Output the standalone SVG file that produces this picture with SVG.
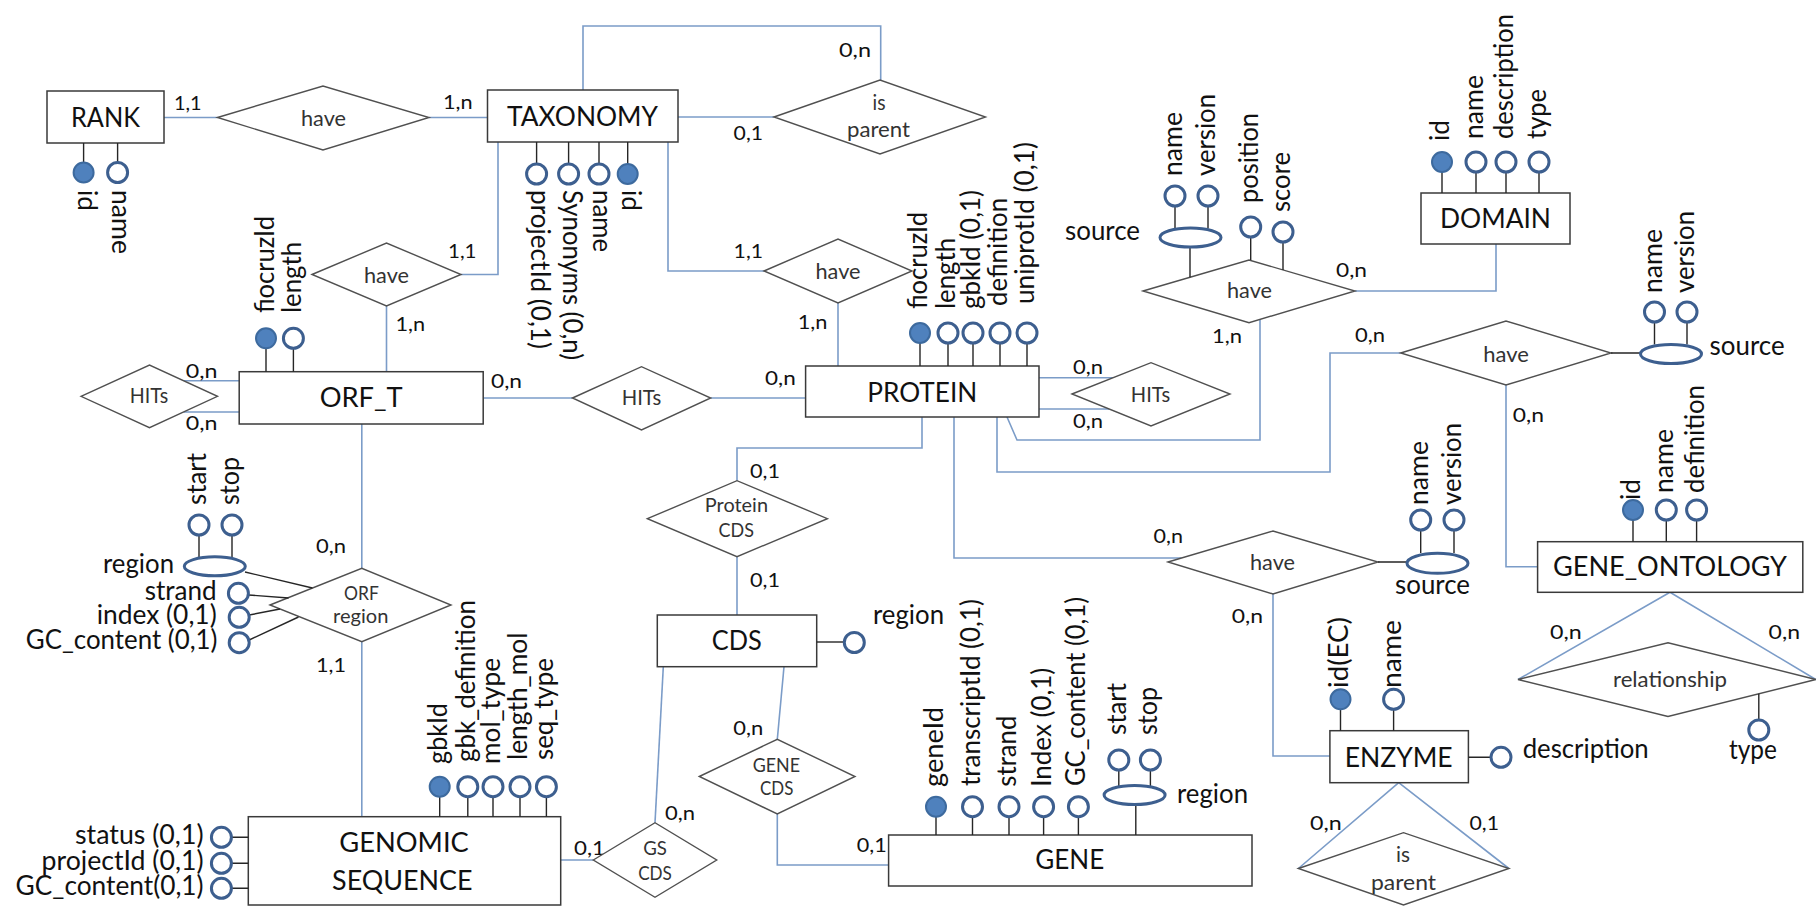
<svg xmlns="http://www.w3.org/2000/svg" width="1817" height="907" viewBox="0 0 1817 907">
  <style>
    .ent { fill: #fff; stroke: #3a3a3a; stroke-width: 1.5; }
    .rel { fill: #fff; stroke: #505050; stroke-width: 1.4; }
    .con { fill: none; stroke: #7b9cc8; stroke-width: 1.6; }
    .stub { fill: none; stroke: #262626; stroke-width: 1.4; }
    .att { fill: #fff; stroke: #3d5f8f; stroke-width: 3; }
    .key { fill: #4f81bd; stroke: #3d6a9e; stroke-width: 2; }
    text { font-family: Lato, "Liberation Sans", sans-serif; fill: #111; }
    .te { font-size: 27px; text-anchor: middle; }
    .tr { font-size: 21.5px; text-anchor: middle; fill: #333; }
    .ts { font-size: 19.5px; text-anchor: middle; fill: #333; }
    .tc { font-size: 19px; fill: #333; }
    .ta { font-size: 26px; }
    .end { text-anchor: end; }
    .mid { text-anchor: middle; }
  </style>

  <!-- relationship lines -->
  <g id="connectors">
    <path class="con" d="M164,117.5 H217.5"/>
    <path class="con" d="M429,117.5 H487.5"/>
    <path class="con" d="M583,90 V26 H880.7 V80"/>
    <path class="con" d="M678,117 H774"/>
    <path class="con" d="M498,142 V274.5 H461"/>
    <path class="con" d="M386.5,306 V371.7"/>
    <path class="con" d="M668,142 V271 H764"/>
    <path class="con" d="M838,303 V366"/>
    <path class="con" d="M239.2,380.7 H183.6 M239.2,412 H183.5"/>
    <path class="con" d="M483.2,398 H572.5"/>
    <path class="con" d="M710.7,398 H805.6"/>
    <path class="con" d="M1039,377.7 H1113 M1039,409 H1109"/>
    <path class="con" d="M1007,417 L1017,440 H1260 V319.4"/>
    <path class="con" d="M997,417 V472 H1330 V353 H1400.7"/>
    <path class="con" d="M1355,291 H1496 V244"/>
    <path class="con" d="M1506,385 V566.7 H1537.6"/>
    <path class="con" d="M922,417 V448 H737 V480.7"/>
    <path class="con" d="M737,556.7 V615"/>
    <path class="con" d="M954,417 V558 H1181.5"/>
    <path class="con" d="M1273,594 V756 H1329.9"/>
    <path class="con" d="M1398.7,782.7 L1298.4,868.5 M1398.7,782.7 L1508.9,868.5"/>
    <path class="con" d="M1670,592.3 L1518,679.5 M1670,592.3 L1815.8,679.5"/>
    <path class="con" d="M361.8,424 V568.3"/>
    <path class="con" d="M361.8,641.7 V816.7"/>
    <path class="con" d="M560.7,860 H593.3"/>
    <path class="con" d="M655,822.7 L663.3,666.7"/>
    <path class="con" d="M784,666.7 L777.3,739.3"/>
    <path class="con" d="M777.3,814 V865 H888.6"/>
  </g>

  <!-- cardinalities -->
  <g id="cardinalities" class="tc">
    <text x="174" y="110" textLength="27.6" lengthAdjust="spacingAndGlyphs">1,1</text>
    <text x="443" y="109" textLength="29.6" lengthAdjust="spacingAndGlyphs">1,n</text>
    <text x="839" y="57" textLength="32" lengthAdjust="spacingAndGlyphs">0,n</text>
    <text x="733.6" y="140" textLength="29.4" lengthAdjust="spacingAndGlyphs">0,1</text>
    <text x="448" y="258" textLength="28.5" lengthAdjust="spacingAndGlyphs">1,1</text>
    <text x="733.6" y="258" textLength="29.4" lengthAdjust="spacingAndGlyphs">1,1</text>
    <text x="395.4" y="331" textLength="29.6" lengthAdjust="spacingAndGlyphs">1,n</text>
    <text x="797.7" y="329" textLength="29.7" lengthAdjust="spacingAndGlyphs">1,n</text>
    <text x="185.8" y="377.7" textLength="31.7" lengthAdjust="spacingAndGlyphs">0,n</text>
    <text x="185.8" y="430" textLength="31.7" lengthAdjust="spacingAndGlyphs">0,n</text>
    <text x="491" y="388" textLength="31" lengthAdjust="spacingAndGlyphs">0,n</text>
    <text x="765" y="385" textLength="30.7" lengthAdjust="spacingAndGlyphs">0,n</text>
    <text x="1073" y="374" textLength="30" lengthAdjust="spacingAndGlyphs">0,n</text>
    <text x="1073" y="427.7" textLength="30" lengthAdjust="spacingAndGlyphs">0,n</text>
    <text x="1336" y="277" textLength="31" lengthAdjust="spacingAndGlyphs">0,n</text>
    <text x="1212" y="343" textLength="30" lengthAdjust="spacingAndGlyphs">1,n</text>
    <text x="1355" y="341.7" textLength="30" lengthAdjust="spacingAndGlyphs">0,n</text>
    <text x="1512.8" y="421.7" textLength="31.2" lengthAdjust="spacingAndGlyphs">0,n</text>
    <text x="750" y="478" textLength="30" lengthAdjust="spacingAndGlyphs">0,1</text>
    <text x="750" y="586.7" textLength="30" lengthAdjust="spacingAndGlyphs">0,1</text>
    <text x="1153.6" y="543.3" textLength="29.4" lengthAdjust="spacingAndGlyphs">0,n</text>
    <text x="1231.7" y="623.3" textLength="31.3" lengthAdjust="spacingAndGlyphs">0,n</text>
    <text x="316" y="552.7" textLength="30" lengthAdjust="spacingAndGlyphs">0,n</text>
    <text x="316" y="671.7" textLength="30" lengthAdjust="spacingAndGlyphs">1,1</text>
    <text x="574" y="855" textLength="31" lengthAdjust="spacingAndGlyphs">0,1</text>
    <text x="665" y="820" textLength="30" lengthAdjust="spacingAndGlyphs">0,n</text>
    <text x="733.3" y="735" textLength="30" lengthAdjust="spacingAndGlyphs">0,n</text>
    <text x="856.7" y="851.7" textLength="30" lengthAdjust="spacingAndGlyphs">0,1</text>
    <text x="1310" y="830" textLength="31.7" lengthAdjust="spacingAndGlyphs">0,n</text>
    <text x="1469.5" y="830" textLength="29.5" lengthAdjust="spacingAndGlyphs">0,1</text>
    <text x="1550" y="639" textLength="31.7" lengthAdjust="spacingAndGlyphs">0,n</text>
    <text x="1768.6" y="639" textLength="31.4" lengthAdjust="spacingAndGlyphs">0,n</text>
  </g>

  <!-- entities -->
  <g id="rank">
    <rect class="ent" x="47" y="91" width="117" height="52"/>
    <text class="te" x="105.5" y="127" textLength="69" lengthAdjust="spacingAndGlyphs">RANK</text>
    <path class="stub" d="M83.6,143 V162 M117.6,143 V162"/>
    <circle class="key" cx="83.6" cy="172.5" r="10"/>
    <circle class="att" cx="117.6" cy="172.5" r="10"/>
    <text class="ta" x="78" y="190" transform="rotate(90 78 190)" textLength="21" lengthAdjust="spacingAndGlyphs">id</text>
    <text class="ta" x="112" y="190" transform="rotate(90 112 190)" textLength="64" lengthAdjust="spacingAndGlyphs">name</text>
  </g>

  <g id="taxonomy">
    <rect class="ent" x="487.5" y="90" width="190.5" height="52"/>
    <text class="te" x="582.5" y="126" textLength="151" lengthAdjust="spacingAndGlyphs">TAXONOMY</text>
    <path class="stub" d="M536.6,142 V164 M568.6,142 V164 M599,142 V164 M627.7,142 V164"/>
    <circle class="att" cx="536.6" cy="174" r="10"/>
    <circle class="att" cx="568.6" cy="174" r="10"/>
    <circle class="att" cx="599" cy="174" r="10"/>
    <circle class="key" cx="627.7" cy="174" r="10"/>
    <text class="ta" x="531" y="190" transform="rotate(90 531 190)" textLength="159" lengthAdjust="spacingAndGlyphs">projectId (0,1)</text>
    <text class="ta" x="563" y="190" transform="rotate(90 563 190)" textLength="170" lengthAdjust="spacingAndGlyphs">Synonyms (0,n)</text>
    <text class="ta" x="593" y="190" transform="rotate(90 593 190)" textLength="62" lengthAdjust="spacingAndGlyphs">name</text>
    <text class="ta" x="622" y="190" transform="rotate(90 622 190)" textLength="21" lengthAdjust="spacingAndGlyphs">id</text>
  </g>

  <g id="orf_t">
    <rect class="ent" x="239.2" y="371.7" width="244" height="52.3"/>
    <text class="te" x="361.2" y="406.5" textLength="83" lengthAdjust="spacingAndGlyphs">ORF_T</text>
    <path class="stub" d="M266,371.7 V348 M293.4,371.7 V348"/>
    <circle class="key" cx="266" cy="338.3" r="10"/>
    <circle class="att" cx="293.4" cy="338.3" r="10"/>
    <text class="ta" x="274" y="313" transform="rotate(-90 274 313)" textLength="97" lengthAdjust="spacingAndGlyphs">fiocruzId</text>
    <text class="ta" x="301" y="313" transform="rotate(-90 301 313)" textLength="71" lengthAdjust="spacingAndGlyphs">length</text>
  </g>

  <g id="protein">
    <rect class="ent" x="805.6" y="366" width="233.4" height="51"/>
    <text class="te" x="922.3" y="401.5" textLength="110" lengthAdjust="spacingAndGlyphs">PROTEIN</text>
    <path class="stub" d="M920,366 V343 M948,366 V343 M973,366 V343 M1000,366 V343 M1027,366 V343"/>
    <circle class="key" cx="920" cy="333" r="10"/>
    <circle class="att" cx="948" cy="333" r="10"/>
    <circle class="att" cx="973" cy="333" r="10"/>
    <circle class="att" cx="1000" cy="333" r="10"/>
    <circle class="att" cx="1027" cy="333" r="10"/>
    <text class="ta" x="927" y="309" transform="rotate(-90 927 309)" textLength="97" lengthAdjust="spacingAndGlyphs">fiocruzId</text>
    <text class="ta" x="955" y="309" transform="rotate(-90 955 309)" textLength="71" lengthAdjust="spacingAndGlyphs">length</text>
    <text class="ta" x="980" y="309" transform="rotate(-90 980 309)" textLength="119" lengthAdjust="spacingAndGlyphs">gbkId (0,1)</text>
    <text class="ta" x="1007" y="306" transform="rotate(-90 1007 306)" textLength="108" lengthAdjust="spacingAndGlyphs">definition</text>
    <text class="ta" x="1034" y="304" transform="rotate(-90 1034 304)" textLength="162" lengthAdjust="spacingAndGlyphs">uniprotId (0,1)</text>
  </g>

  <g id="domain">
    <rect class="ent" x="1421" y="193" width="149" height="51"/>
    <text class="te" x="1495.5" y="228" textLength="111" lengthAdjust="spacingAndGlyphs">DOMAIN</text>
    <path class="stub" d="M1442,193 V172 M1476,193 V172 M1506,193 V172 M1539,193 V172"/>
    <circle class="key" cx="1442" cy="162" r="10"/>
    <circle class="att" cx="1476" cy="162" r="10"/>
    <circle class="att" cx="1506" cy="162" r="10"/>
    <circle class="att" cx="1539" cy="162" r="10"/>
    <text class="ta" x="1449" y="141" transform="rotate(-90 1449 141)" textLength="21" lengthAdjust="spacingAndGlyphs">id</text>
    <text class="ta" x="1483" y="139" transform="rotate(-90 1483 139)" textLength="64" lengthAdjust="spacingAndGlyphs">name</text>
    <text class="ta" x="1513" y="139" transform="rotate(-90 1513 139)" textLength="125" lengthAdjust="spacingAndGlyphs">description</text>
    <text class="ta" x="1546" y="139" transform="rotate(-90 1546 139)" textLength="50" lengthAdjust="spacingAndGlyphs">type</text>
  </g>

  <g id="gene_ontology">
    <rect class="ent" x="1537.6" y="541.7" width="265.2" height="50.6"/>
    <text class="te" x="1670" y="576" textLength="234" lengthAdjust="spacingAndGlyphs">GENE_ONTOLOGY</text>
    <path class="stub" d="M1633,541.7 V520 M1666.3,541.7 V520 M1696.6,541.7 V520"/>
    <circle class="key" cx="1633" cy="510" r="10"/>
    <circle class="att" cx="1666.3" cy="510" r="10"/>
    <circle class="att" cx="1696.6" cy="510" r="10"/>
    <text class="ta" x="1640" y="500" transform="rotate(-90 1640 500)" textLength="21" lengthAdjust="spacingAndGlyphs">id</text>
    <text class="ta" x="1673.3" y="493" transform="rotate(-90 1673.3 493)" textLength="64" lengthAdjust="spacingAndGlyphs">name</text>
    <text class="ta" x="1703.6" y="493" transform="rotate(-90 1703.6 493)" textLength="108" lengthAdjust="spacingAndGlyphs">definition</text>
  </g>

  <g id="cds">
    <rect class="ent" x="657.3" y="615" width="159.4" height="51.7"/>
    <text class="te" x="736.7" y="650" textLength="50" lengthAdjust="spacingAndGlyphs">CDS</text>
    <path class="stub" d="M816.7,642 H844.3"/>
    <circle class="att" cx="854.3" cy="642.5" r="10"/>
    <text class="ta" x="873" y="624" textLength="71" lengthAdjust="spacingAndGlyphs">region</text>
  </g>

  <g id="genomic_sequence">
    <rect class="ent" x="248.3" y="816.7" width="312.4" height="88.3"/>
    <text class="te" x="404" y="851.7" textLength="129.5" lengthAdjust="spacingAndGlyphs">GENOMIC</text>
    <text class="te" x="402.3" y="890" textLength="140.5" lengthAdjust="spacingAndGlyphs">SEQUENCE</text>
    <path class="stub" d="M439.7,816.7 V796 M467.8,816.7 V796 M493,816.7 V796 M520,816.7 V796 M546.4,816.7 V796"/>
    <circle class="key" cx="439.7" cy="786.7" r="10"/>
    <circle class="att" cx="467.8" cy="786.7" r="10"/>
    <circle class="att" cx="493" cy="786.7" r="10"/>
    <circle class="att" cx="520" cy="786.7" r="10"/>
    <circle class="att" cx="546.4" cy="786.7" r="10"/>
    <text class="ta" x="446.7" y="764" transform="rotate(-90 446.7 764)" textLength="61" lengthAdjust="spacingAndGlyphs">gbkId</text>
    <text class="ta" x="474.8" y="762" transform="rotate(-90 474.8 762)" textLength="162" lengthAdjust="spacingAndGlyphs">gbk_definition</text>
    <text class="ta" x="500" y="764" transform="rotate(-90 500 764)" textLength="106" lengthAdjust="spacingAndGlyphs">mol_type</text>
    <text class="ta" x="527" y="760" transform="rotate(-90 527 760)" textLength="127.5" lengthAdjust="spacingAndGlyphs">length_mol</text>
    <text class="ta" x="553.4" y="760" transform="rotate(-90 553.4 760)" textLength="102" lengthAdjust="spacingAndGlyphs">seq_type</text>
    <path class="stub" d="M231.4,837.3 H248.3 M231.4,863.3 H248.3 M231.4,888.3 H248.3"/>
    <circle class="att" cx="221.4" cy="837.3" r="10"/>
    <circle class="att" cx="221.4" cy="863.3" r="10"/>
    <circle class="att" cx="221.4" cy="888.3" r="10"/>
    <text class="ta end" x="203.6" y="844" textLength="128.6" lengthAdjust="spacingAndGlyphs">status (0,1)</text>
    <text class="ta end" x="203.6" y="869.5" textLength="162" lengthAdjust="spacingAndGlyphs">projectId (0,1)</text>
    <text class="ta end" x="203.6" y="895" textLength="188" lengthAdjust="spacingAndGlyphs">GC_content(0,1)</text>
  </g>

  <g id="gene">
    <rect class="ent" x="888.6" y="835" width="363.4" height="51"/>
    <text class="te" x="1069.7" y="869.3" textLength="69" lengthAdjust="spacingAndGlyphs">GENE</text>
    <path class="stub" d="M936,835 V817 M972.5,835 V817 M1009,835 V817 M1043.6,835 V817 M1078.4,835 V817 M1135.8,835 V804.5 M1118.8,770 V786 M1150.4,770 V786"/>
    <circle class="key" cx="936" cy="806.7" r="10"/>
    <circle class="att" cx="972.5" cy="806.7" r="10"/>
    <circle class="att" cx="1009" cy="806.7" r="10"/>
    <circle class="att" cx="1043.6" cy="806.7" r="10"/>
    <circle class="att" cx="1078.4" cy="806.7" r="10"/>
    <ellipse class="att" cx="1134.6" cy="795" rx="30.5" ry="9.5"/>
    <circle class="att" cx="1118.8" cy="760" r="10"/>
    <circle class="att" cx="1150.4" cy="760" r="10"/>
    <text class="ta" x="943" y="787" transform="rotate(-90 943 787)" textLength="80" lengthAdjust="spacingAndGlyphs">geneId</text>
    <text class="ta" x="979.5" y="786" transform="rotate(-90 979.5 786)" textLength="187" lengthAdjust="spacingAndGlyphs">transcriptId (0,1)</text>
    <text class="ta" x="1016" y="786.7" transform="rotate(-90 1016 786.7)" textLength="71" lengthAdjust="spacingAndGlyphs">strand</text>
    <text class="ta" x="1050.6" y="786.7" transform="rotate(-90 1050.6 786.7)" textLength="119" lengthAdjust="spacingAndGlyphs">Index (0,1)</text>
    <text class="ta" x="1085.4" y="786" transform="rotate(-90 1085.4 786)" textLength="189" lengthAdjust="spacingAndGlyphs">GC_content (0,1)</text>
    <text class="ta" x="1125.8" y="735" transform="rotate(-90 1125.8 735)" textLength="52" lengthAdjust="spacingAndGlyphs">start</text>
    <text class="ta" x="1157.4" y="735" transform="rotate(-90 1157.4 735)" textLength="48" lengthAdjust="spacingAndGlyphs">stop</text>
    <text class="ta" x="1177" y="803" textLength="71" lengthAdjust="spacingAndGlyphs">region</text>
  </g>

  <g id="enzyme">
    <rect class="ent" x="1329.9" y="730.7" width="138.5" height="52"/>
    <text class="te" x="1398.7" y="766.5" textLength="108" lengthAdjust="spacingAndGlyphs">ENZYME</text>
    <path class="stub" d="M1340.5,730.7 V709 M1393.6,730.7 V709 M1468.4,757.3 H1491"/>
    <circle class="key" cx="1340.5" cy="699.3" r="10"/>
    <circle class="att" cx="1393.6" cy="699.3" r="10"/>
    <circle class="att" cx="1501" cy="757.3" r="10"/>
    <text class="ta" x="1347.5" y="688" transform="rotate(-90 1347.5 688)" textLength="71" lengthAdjust="spacingAndGlyphs">id(EC)</text>
    <text class="ta" x="1400.6" y="688" transform="rotate(-90 1400.6 688)" textLength="68" lengthAdjust="spacingAndGlyphs">name</text>
    <text class="ta" x="1522.7" y="758" textLength="126" lengthAdjust="spacingAndGlyphs">description</text>
  </g>

  <!-- relationships -->
  <g id="rank_have">
    <polygon class="rel" points="217.5,117.5 323,86 429,117.5 323,150"/>
    <text class="tr" x="323.5" y="126" textLength="45" lengthAdjust="spacingAndGlyphs">have</text>
  </g>
  <g id="taxonomy_is_parent">
    <polygon class="rel" points="774,117 880,80 985.5,117 880,154"/>
    <text class="tr" x="879" y="110" textLength="13" lengthAdjust="spacingAndGlyphs">is</text>
    <text class="tr" x="878.5" y="137" textLength="63" lengthAdjust="spacingAndGlyphs">parent</text>
  </g>
  <g id="orf_have">
    <polygon class="rel" points="312,274.5 386.5,243 461,274.5 386.5,306"/>
    <text class="tr" x="386.5" y="283" textLength="45" lengthAdjust="spacingAndGlyphs">have</text>
  </g>
  <g id="protein_have">
    <polygon class="rel" points="764,271 838,239 912,271 838,303"/>
    <text class="tr" x="838" y="279" textLength="45" lengthAdjust="spacingAndGlyphs">have</text>
  </g>
  <g id="orf_hits">
    <polygon class="rel" points="81,396.3 149.5,365 217.5,396.3 149.5,427.7"/>
    <text class="tr" x="149" y="403" textLength="38.3" lengthAdjust="spacingAndGlyphs">HITs</text>
  </g>
  <g id="orf_protein_hits">
    <polygon class="rel" points="572.5,398 641.5,366.7 710.7,398 641.5,430"/>
    <text class="tr" x="641.5" y="405" textLength="39.6" lengthAdjust="spacingAndGlyphs">HITs</text>
  </g>
  <g id="protein_hits">
    <polygon class="rel" points="1072,394 1151,362.7 1230,394 1151,426"/>
    <text class="tr" x="1150.5" y="401.7" textLength="39.3" lengthAdjust="spacingAndGlyphs">HITs</text>
  </g>
  <g id="domain_have">
    <polygon class="rel" points="1143,291 1249,260 1355,291 1249,322.7"/>
    <text class="tr" x="1249.5" y="298.3" textLength="45" lengthAdjust="spacingAndGlyphs">have</text>
    <path class="stub" d="M1190,247 V277.3 M1175,206 V228.5 M1208,206 V228.5 M1250.7,237 V260 M1283,242 V270"/>
    <ellipse class="att" cx="1190.5" cy="237.5" rx="30.5" ry="9.5"/>
    <circle class="att" cx="1175" cy="196" r="10"/>
    <circle class="att" cx="1208" cy="196" r="10"/>
    <circle class="att" cx="1250.7" cy="227" r="10"/>
    <circle class="att" cx="1283" cy="232" r="10"/>
    <text class="ta end" x="1140" y="240" textLength="75" lengthAdjust="spacingAndGlyphs">source</text>
    <text class="ta" x="1182" y="176" transform="rotate(-90 1182 176)" textLength="64" lengthAdjust="spacingAndGlyphs">name</text>
    <text class="ta" x="1215" y="176" transform="rotate(-90 1215 176)" textLength="82" lengthAdjust="spacingAndGlyphs">version</text>
    <text class="ta" x="1257.7" y="203" transform="rotate(-90 1257.7 203)" textLength="90" lengthAdjust="spacingAndGlyphs">position</text>
    <text class="ta" x="1290" y="212" transform="rotate(-90 1290 212)" textLength="60" lengthAdjust="spacingAndGlyphs">score</text>
  </g>
  <g id="gene_ontology_have">
    <polygon class="rel" points="1400.7,353 1506,321 1611,353 1506,385"/>
    <text class="tr" x="1506" y="361.7" textLength="45.6" lengthAdjust="spacingAndGlyphs">have</text>
    <path class="stub" d="M1611,353 H1640.5 M1654.5,322 V344.5 M1687,322 V344.5"/>
    <ellipse class="att" cx="1671" cy="354" rx="30.5" ry="9.5"/>
    <circle class="att" cx="1654.5" cy="312" r="10"/>
    <circle class="att" cx="1687" cy="312" r="10"/>
    <text class="ta" x="1709.6" y="355" textLength="75" lengthAdjust="spacingAndGlyphs">source</text>
    <text class="ta" x="1661.5" y="293" transform="rotate(-90 1661.5 293)" textLength="64" lengthAdjust="spacingAndGlyphs">name</text>
    <text class="ta" x="1694" y="293" transform="rotate(-90 1694 293)" textLength="82" lengthAdjust="spacingAndGlyphs">version</text>
  </g>
  <g id="protein_cds">
    <polygon class="rel" points="647.4,518.7 737,480.7 827.4,518.7 737,556.7"/>
    <text class="ts" x="736.4" y="511.7" textLength="63.2" lengthAdjust="spacingAndGlyphs">Protein</text>
    <text class="ts" x="736.3" y="536.7" textLength="35.4" lengthAdjust="spacingAndGlyphs">CDS</text>
  </g>
  <g id="enzyme_have">
    <polygon class="rel" points="1168,562 1273,531 1378,562 1273,594"/>
    <text class="tr" x="1272.5" y="570" textLength="45" lengthAdjust="spacingAndGlyphs">have</text>
    <path class="stub" d="M1378,562 H1407 M1420.7,530 V553 M1454,530 V553"/>
    <ellipse class="att" cx="1437.5" cy="563.3" rx="30.5" ry="10"/>
    <circle class="att" cx="1420.7" cy="520" r="10"/>
    <circle class="att" cx="1454" cy="520" r="10"/>
    <text class="ta mid" x="1432.5" y="594" textLength="75" lengthAdjust="spacingAndGlyphs">source</text>
    <text class="ta" x="1427.7" y="505" transform="rotate(-90 1427.7 505)" textLength="64" lengthAdjust="spacingAndGlyphs">name</text>
    <text class="ta" x="1461" y="505" transform="rotate(-90 1461 505)" textLength="82" lengthAdjust="spacingAndGlyphs">version</text>
  </g>
  <g id="orf_region">
    <polygon class="rel" points="270,605 361.8,568.3 451,605 361.8,641.7"/>
    <text class="ts" x="361.4" y="600" textLength="34.8" lengthAdjust="spacingAndGlyphs">ORF</text>
    <text class="ts" x="360.8" y="623" textLength="55.4" lengthAdjust="spacingAndGlyphs">region</text>
    <path class="stub" d="M245,572 L312.4,588 M248.4,595 L288.6,598 M249.2,615 L280,609 M249.2,640 L298.5,617 M199,535 V557.5 M232,535 V557.5"/>
    <ellipse class="att" cx="214.8" cy="566.3" rx="30.5" ry="9.5"/>
    <circle class="att" cx="199" cy="525" r="10"/>
    <circle class="att" cx="232" cy="525" r="10"/>
    <circle class="att" cx="238.4" cy="593.3" r="10"/>
    <circle class="att" cx="239.2" cy="617.3" r="10"/>
    <circle class="att" cx="239.2" cy="642.7" r="10"/>
    <text class="ta" x="206" y="505" transform="rotate(-90 206 505)" textLength="52" lengthAdjust="spacingAndGlyphs">start</text>
    <text class="ta" x="239" y="505" transform="rotate(-90 239 505)" textLength="48" lengthAdjust="spacingAndGlyphs">stop</text>
    <text class="ta end" x="174" y="573" textLength="71" lengthAdjust="spacingAndGlyphs">region</text>
    <text class="ta end" x="216.7" y="600" textLength="72" lengthAdjust="spacingAndGlyphs">strand</text>
    <text class="ta end" x="216.7" y="623.5" textLength="120" lengthAdjust="spacingAndGlyphs">index (0,1)</text>
    <text class="ta end" x="217.5" y="648.5" textLength="191.7" lengthAdjust="spacingAndGlyphs">GC_content (0,1)</text>
  </g>
  <g id="gs_cds">
    <polygon class="rel" points="593.3,860 655,822.7 716.7,860 655,897.3"/>
    <text class="ts" x="655" y="855" textLength="23.7" lengthAdjust="spacingAndGlyphs">GS</text>
    <text class="ts" x="655" y="880" textLength="33.7" lengthAdjust="spacingAndGlyphs">CDS</text>
  </g>
  <g id="gene_cds">
    <polygon class="rel" points="699.3,776.5 777.3,739.3 855,776.5 777.3,814"/>
    <text class="ts" x="776.4" y="771.7" textLength="47.3" lengthAdjust="spacingAndGlyphs">GENE</text>
    <text class="ts" x="776.7" y="795" textLength="33.3" lengthAdjust="spacingAndGlyphs">CDS</text>
  </g>
  <g id="enzyme_is_parent">
    <polygon class="rel" points="1298.4,868.5 1403.5,832.7 1508.9,868.5 1403.5,905"/>
    <text class="tr" x="1403" y="861.7" textLength="14" lengthAdjust="spacingAndGlyphs">is</text>
    <text class="tr" x="1403.5" y="890" textLength="65" lengthAdjust="spacingAndGlyphs">parent</text>
  </g>
  <g id="go_relationship">
    <polygon class="rel" points="1518,679.5 1668,642.7 1815.8,679.5 1668,716.5"/>
    <text class="tr" x="1670" y="687" textLength="114" lengthAdjust="spacingAndGlyphs">relationship</text>
    <path class="stub" d="M1758.8,693.8 V720"/>
    <circle class="att" cx="1758.8" cy="730" r="10"/>
    <text class="ta mid" x="1753" y="759" textLength="48" lengthAdjust="spacingAndGlyphs">type</text>
  </g>
</svg>
